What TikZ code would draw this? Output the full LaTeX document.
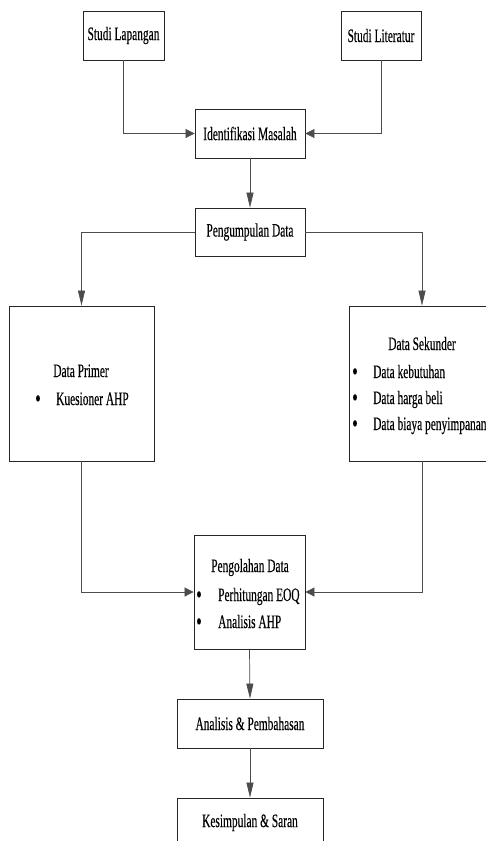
\documentclass[tikz,border=0pt]{standalone}
\usepackage{fontspec}
\setmainfont{Liberation Serif}[FakeStretch=0.6,FakeBold=0.3]
\usetikzlibrary{arrows.meta}
\begin{document}
\begin{tikzpicture}[x=1pt,y=-1pt,
  box/.style={draw=black!85,line width=0.8pt,inner sep=0pt,font=\fontsize{19}{23}\selectfont},
  txt/.style={inner sep=0pt,font=\fontsize{19}{23}\selectfont},
  itm/.style={txt,anchor=base west},
  ttl/.style={txt,anchor=base},
  bul/.style={inner sep=0pt,anchor=base,yshift=-2pt,font=\fontsize{26}{26}\selectfont},
  conn/.style={draw=black!70,line width=0.7pt},
  harr/.style={conn,-{Triangle[length=9pt,width=9pt]}},
  varr/.style={conn,-{Triangle[length=15pt,width=7pt]}}]
\useasboundingbox (0,0) rectangle (486,841);
% boxes
\node[box,minimum width=81pt,minimum height=49pt] (sl) at (123.5,35.5) {Studi Lapangan};
\node[box,minimum width=80pt,minimum height=49pt] (slit) at (381,35.5) {Studi Literatur};
\node[box,minimum width=110pt,minimum height=49pt] (im) at (250,133.5) {Identifikasi Masalah};
\node[box,minimum width=110pt,minimum height=48pt] (pd) at (250,232) {Pengumpulan Data};
\node[box,minimum width=145pt,minimum height=155pt] (dp) at (81.5,383.5) {};
\node[box,minimum width=146pt,minimum height=155pt] (ds) at (422,383.5) {};
\node[box,minimum width=111pt,minimum height=114pt] (pg) at (249.5,592) {};
\node[box,minimum width=146pt,minimum height=49pt] (ap) at (250,723.5) {Analisis \& Pembahasan};
\node[box,minimum width=146pt,minimum height=49pt] (ks) at (250,822.5) {Kesimpulan \& Saran};
% inner texts
\node[ttl] (dpt) at (81,377) {Data Primer};
\node[bul] (dpb1) at (38,405) {\textbullet};
\node[itm] (dpi1) at (56,405) {Kuesioner AHP};
\node[ttl] (dst) at (422,350) {Data Sekunder};
\node[bul] (dsb1) at (355,378) {\textbullet};
\node[itm] (dsi1) at (373,378) {Data kebutuhan};
\node[bul] (dsb2) at (355,404) {\textbullet};
\node[itm] (dsi2) at (373,404) {Data harga beli};
\node[bul] (dsb3) at (355,430) {\textbullet};
\node[itm] (dsi3) at (373,430) {Data biaya penyimpanan};
\node[ttl] (pgt) at (250,572) {Pengolahan Data};
\node[bul] (pgb1) at (199,601) {\textbullet};
\node[itm] (pgi1) at (218,601) {Perhitungan EOQ};
\node[bul] (pgb2) at (199,628) {\textbullet};
\node[itm] (pgi2) at (218,628) {Analisis AHP};
% connectors
\draw[harr] (sl.south) |- (im.west);
\draw[harr] (slit.south) |- (im.east);
\draw[varr] (im.south) -- (pd.north);
\draw[varr] (pd.west) -| (dp.north);
\draw[varr] (pd.east) -| (ds.north);
\draw[harr] (dp.south) |- (pg.west);
\draw[harr] (ds.south) |- (pg.east);
\draw[varr] (pg.south) -- (ap.north);
\draw[varr] (ap.south) -- (ks.north);
\end{tikzpicture}
\end{document}
